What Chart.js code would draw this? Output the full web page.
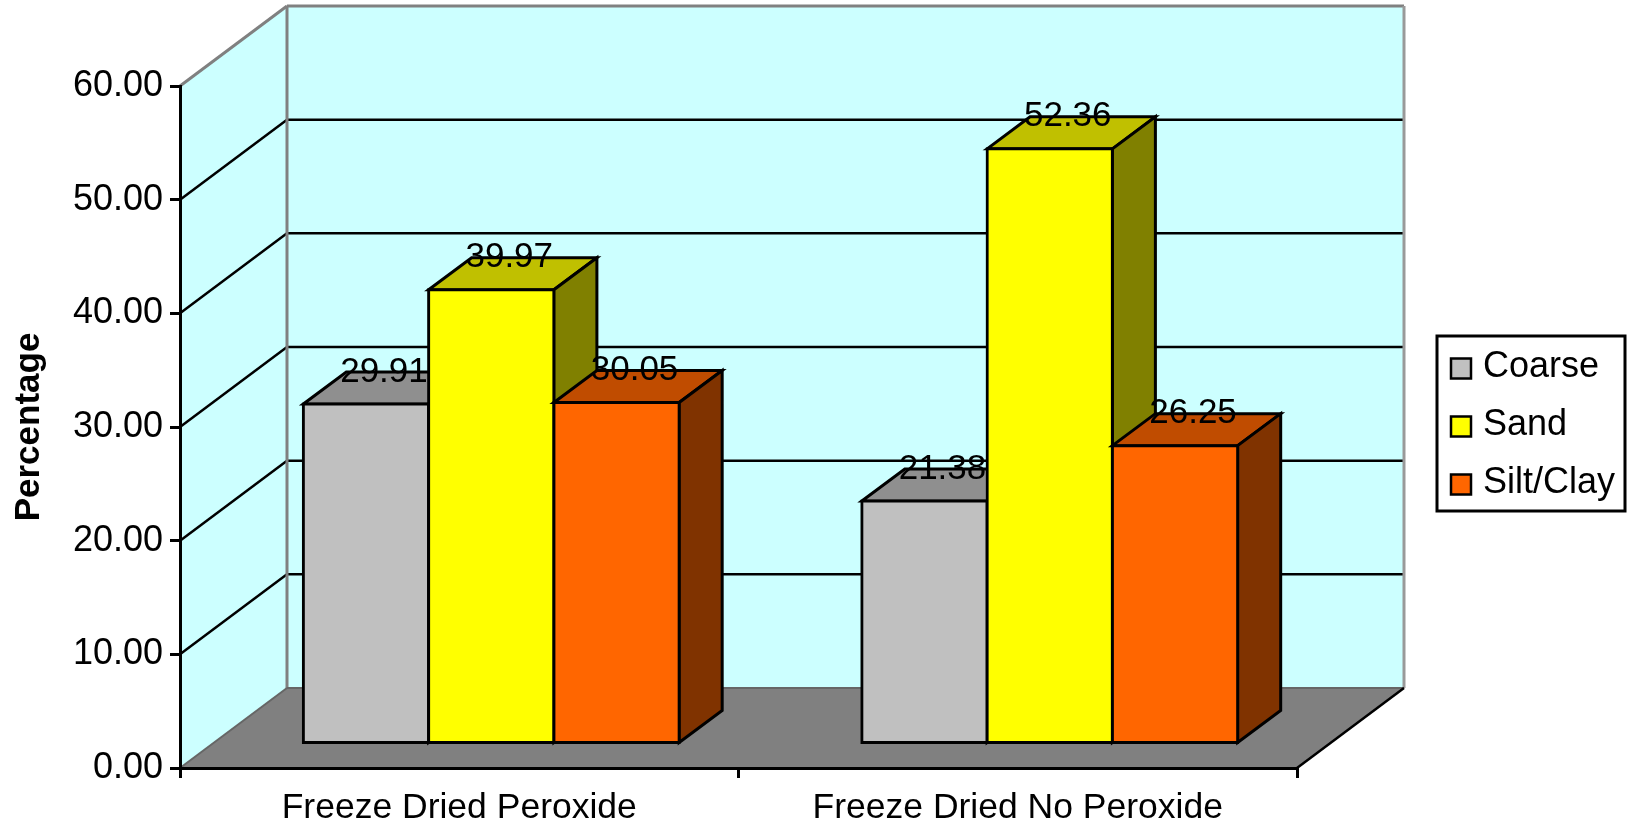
<!DOCTYPE html>
<html>
<head>
<meta charset="utf-8">
<style>html,body{margin:0;padding:0;background:#fff}canvas{display:block}</style>
<script src="https://cdn.jsdelivr.net/npm/chart.js@4/dist/chart.umd.js"></script>
</head>
<body>
<canvas id="c" width="1628" height="828"></canvas>
<script>
const categories = ['Freeze Dried Peroxide', 'Freeze Dried No Peroxide'];
const coarse = [29.91, 21.38];
const sand = [39.97, 52.36];
const siltClay = [30.05, 26.25];
const seriesNames = ['Coarse', 'Sand', 'Silt/Clay'];
const frontColors = ['#C0C0C0', '#FFFF00', '#FF6600'];
const topColors = ['#8F8F8F', '#C0C000', '#C04C00'];
const sideColors = ['#606060', '#808000', '#803300'];

const FONT = '"Liberation Sans", Arial, sans-serif';
const WALL = '#CCFFFF', FLOOR = '#808080', EDGE = '#808080';
const DEPTH = {x: 107, y: -80};      // full box depth
const BAR_DEPTH = {x: 43, y: -32};   // depth of one bar
const BAR_SHIFT = {x: 32, y: -24};   // bars stand in the middle of the floor

function poly(ctx, pts, fill, stroke, lw) {
  ctx.beginPath();
  pts.forEach((p, i) => i ? ctx.lineTo(p[0], p[1]) : ctx.moveTo(p[0], p[1]));
  ctx.closePath();
  if (fill) { ctx.fillStyle = fill; ctx.fill(); }
  if (stroke) { ctx.strokeStyle = stroke; ctx.lineWidth = lw || 2; ctx.lineJoin = 'miter'; ctx.stroke(); }
}
function seg(ctx, x1, y1, x2, y2, color, lw) {
  ctx.beginPath(); ctx.moveTo(x1, y1); ctx.lineTo(x2, y2);
  ctx.strokeStyle = color; ctx.lineWidth = lw; ctx.stroke();
}

const box3d = {
  id: 'box3d',
  beforeDraw(chart) {
    const {ctx, chartArea: a, scales: {y}} = chart;
    const dx = DEPTH.x, dy = DEPTH.y;
    ctx.save();
    poly(ctx, [[a.left, a.top], [a.left + dx, a.top + dy], [a.left + dx, a.bottom + dy], [a.left, a.bottom]], WALL);
    poly(ctx, [[a.left + dx, a.top + dy], [a.right + dx, a.top + dy], [a.right + dx, a.bottom + dy], [a.left + dx, a.bottom + dy]], WALL);
    poly(ctx, [[a.left, a.bottom], [a.left + dx, a.bottom + dy], [a.right + dx, a.bottom + dy], [a.right, a.bottom]], FLOOR);
    y.ticks.forEach(t => {
      if (t.value === y.min || t.value === y.max) return;
      const py = y.getPixelForValue(t.value);
      seg(ctx, a.left, py, a.left + dx, py + dy, '#000', 2.5);
      seg(ctx, a.left + dx, py + dy, a.right + dx, py + dy, '#000', 2.5);
    });
    seg(ctx, a.left, a.top, a.left + dx, a.top + dy, EDGE, 3);
    seg(ctx, a.left + dx, a.top + dy, a.right + dx, a.top + dy, EDGE, 3);
    seg(ctx, a.left + dx, a.top + dy, a.left + dx, a.bottom + dy, EDGE, 3);
    seg(ctx, a.right + dx, a.top + dy, a.right + dx, a.bottom + dy, '#999', 3);
    seg(ctx, a.left + dx, a.bottom + dy, a.right + dx, a.bottom + dy, '#666', 2);
    seg(ctx, a.left, a.bottom, a.left + dx, a.bottom + dy, '#666', 2);
    seg(ctx, a.right, a.bottom, a.right + dx, a.bottom + dy, '#000', 2.5);
    ctx.restore();
  },
  beforeDatasetsDraw(chart) {
    const ctx = chart.ctx;
    chart.data.datasets.forEach((ds, i) => {
      const meta = chart.getDatasetMeta(i);
      ctx.save();
      ctx.translate(BAR_SHIFT.x, BAR_SHIFT.y);
      meta.data.forEach(el => {
        const l = el.x - el.width / 2, r = el.x + el.width / 2, t = el.y, b = el.base;
        const ox = BAR_DEPTH.x, oy = BAR_DEPTH.y;
        poly(ctx, [[l, t], [l + ox, t + oy], [r + ox, t + oy], [r, t]], topColors[i], '#000', 3);
        poly(ctx, [[r, t], [r + ox, t + oy], [r + ox, b + oy], [r, b]], sideColors[i], '#000', 3);
      });
      meta.controller.draw();
      ctx.restore();
    });
    return false;
  },
  afterDraw(chart) {
    const ctx = chart.ctx;
    ctx.save();
    // value labels
    ctx.font = '35px ' + FONT;
    ctx.fillStyle = '#000';
    ctx.textAlign = 'center';
    ctx.textBaseline = 'middle';
    chart.data.datasets.forEach((ds, i) => {
      chart.getDatasetMeta(i).data.forEach((el, k) => {
        ctx.fillText(ds.data[k].toFixed(2), el.x + BAR_SHIFT.x + 18, el.y + BAR_SHIFT.y - 32);
      });
    });
    // legend
    const bx = 1437, by = 336, bw = 188, bh = 175, rowH = 58;
    ctx.fillStyle = '#fff';
    ctx.fillRect(bx, by, bw, bh);
    ctx.strokeStyle = '#000';
    ctx.lineWidth = 3;
    ctx.strokeRect(bx, by, bw, bh);
    ctx.textAlign = 'left';
    ctx.font = '36px ' + FONT;
    seriesNames.forEach((name, i) => {
      const cy = by + 32.5 + i * rowH;
      ctx.fillStyle = frontColors[i];
      ctx.fillRect(bx + 14, cy - 10, 20, 20);
      ctx.lineWidth = 2.5;
      ctx.strokeRect(bx + 14, cy - 10, 20, 20);
      ctx.fillStyle = '#000';
      ctx.fillText(name, bx + 46, cy - 1);
    });
    ctx.restore();
  }
};

new Chart(document.getElementById('c'), {
  type: 'bar',
  data: {
    labels: categories,
    datasets: [coarse, sand, siltClay].map((d, i) => ({
      label: seriesNames[i], data: d,
      backgroundColor: frontColors[i], borderColor: '#000',
      borderWidth: 3, borderSkipped: false, inflateAmount: 1.5,
      categoryPercentage: 0.673, barPercentage: 1
    }))
  },
  options: {
    responsive: false,
    animation: false,
    layout: {padding: {left: 0, top: 86, right: 331, bottom: 0}},
    plugins: {legend: {display: false}, tooltip: {enabled: false}},
    scales: {
      x: {
        afterFit(s) { s.height = 60; },
        grid: {drawOnChartArea: false, color: '#000', lineWidth: 3, tickLength: 10},
        border: {color: '#000', width: 3},
        ticks: {color: '#000', font: {family: FONT, size: 35.5}, padding: 9, maxRotation: 0, autoSkip: false}
      },
      y: {
        min: 0, max: 60,
        afterFit(s) { s.width = 180; },
        title: {display: true, text: 'Percentage', color: '#000', font: {family: FONT, size: 35, weight: 'bold'}, padding: {top: 8, bottom: 0}},
        grid: {drawOnChartArea: false, color: '#000', lineWidth: 3, tickLength: 10},
        border: {color: '#000', width: 3},
        ticks: {stepSize: 10, color: '#000', font: {family: FONT, size: 36}, padding: 7, callback: v => v.toFixed(2)}
      }
    }
  },
  plugins: [box3d]
});
</script>
</body>
</html>
